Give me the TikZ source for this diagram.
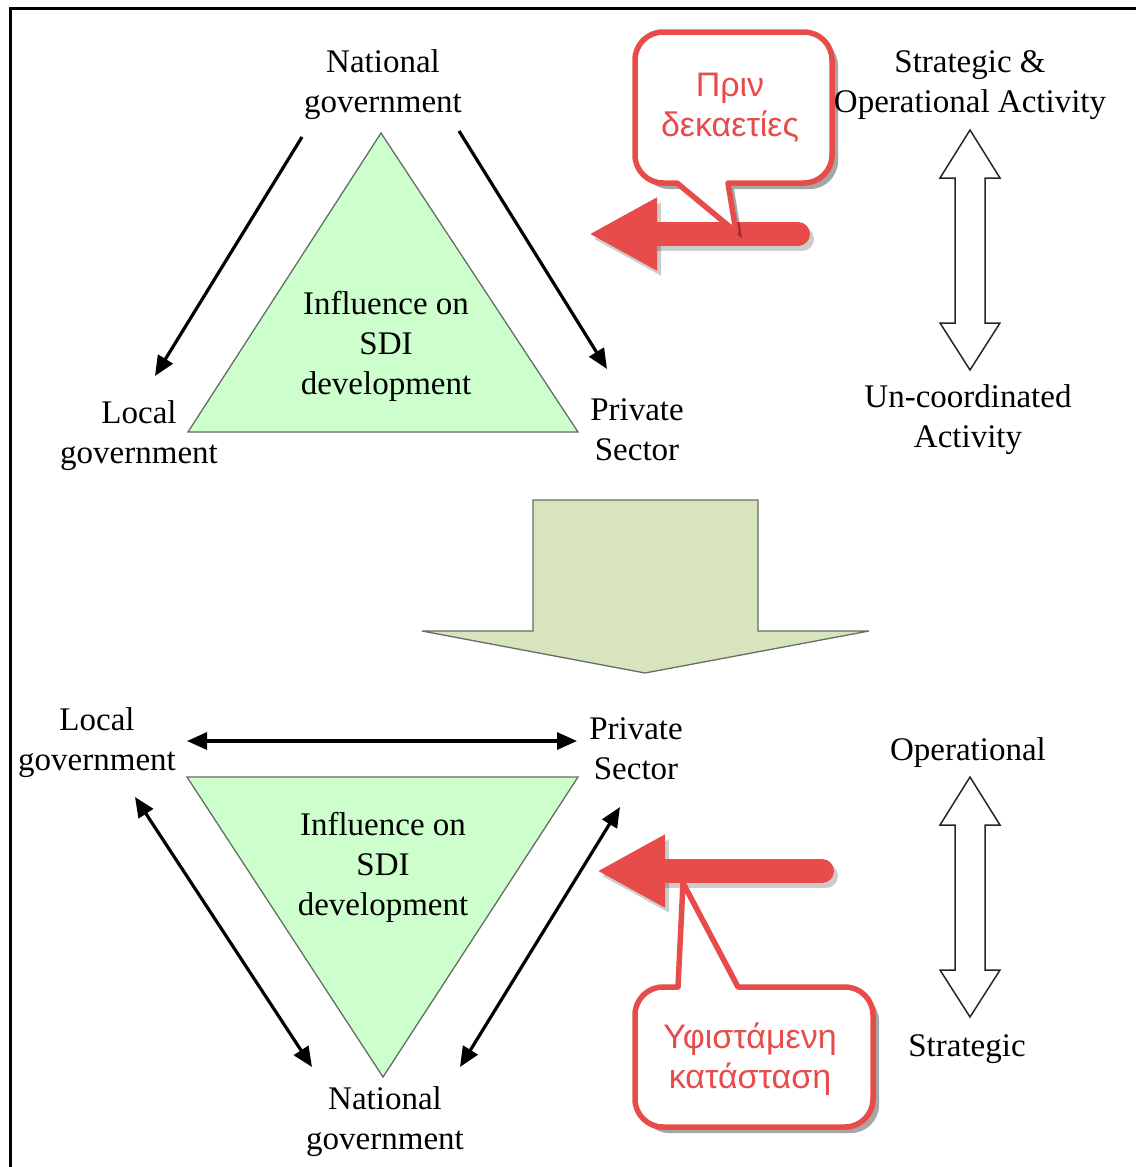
\documentclass[tikz,border=0pt]{standalone}
\usepackage{fontspec}
\setmainfont{Liberation Serif}
\newfontfamily\grfont{Liberation Sans}
\usetikzlibrary{arrows.meta,shadows}
\definecolor{calred}{RGB}{232,76,74}
\definecolor{trigreen}{RGB}{204,255,204}
\definecolor{bigarrow}{RGB}{215,228,189}
\definecolor{trioutline}{RGB}{100,110,100}
\tikzset{
  lbl/.style={inner sep=0pt, align=center, font=\fontsize{33}{40}\selectfont},
  grlbl/.style={inner sep=0pt, align=center, text=calred, font=\grfont\fontsize{34}{40}\selectfont},
  tri/.style={fill=trigreen, draw=trioutline, line width=1.3pt},
  blk/.style={line width=3.2pt, -{Triangle[length=20pt,width=17pt]}},
  blkboth/.style={line width=3.2pt, {Triangle[length=20pt,width=17pt]}-{Triangle[length=20pt,width=17pt]}},
  hollow/.style={fill=white, draw=black!85, line width=1.5pt, line join=miter},
  redarr/.style={draw=calred, line width=24pt, line cap=round, -{Triangle[length=68pt,width=68pt]}},
  redshadow/.style={draw=black, opacity=0.2, line width=24pt, line cap=round, -{Triangle[length=68pt,width=68pt]}},
  callout/.style={fill=white, draw=calred, line width=5.5pt, line join=round,
    drop shadow={shadow xshift=6pt, shadow yshift=-6pt, opacity=0.35, fill=black}},
}
\begin{document}
\begin{tikzpicture}[x=1pt,y=-1pt]
\useasboundingbox (0,0) rectangle (1135,1167);
% border
\draw[line width=3pt] (10,1170) -- (10,8) -- (1140,8);

% ---------- top section ----------
\coordinate (tA) at (381,133);
\coordinate (tL) at (188,432);
\coordinate (tR) at (578,432);
\draw[tri] (tA) -- (tR) -- (tL) -- cycle;
\node[lbl] (infT) at (386,346) {Influence on\\SDI\\development};
\node[lbl] (natT) at (383,85) {National\\government};
\node[lbl] (locT) at (139,436) {Local\\government};
\node[lbl] (priT) at (637,430) {Private\\Sector};
\coordinate (a1s) at (302,137);
\coordinate (a1e) at (155,376);
\coordinate (a2s) at (459,131);
\coordinate (a2e) at (607,369);
\draw[blk] (a1s) -- (a1e);
\draw[blk] (a2s) -- (a2e);

\node[lbl] (strT) at (970,85) {Strategic \&\\Operational Activity};
\node[lbl] (uncT) at (968,420) {Un-coordinated\\Activity};
\draw[hollow] (970,130) -- (1000,178) -- (985,178) -- (985,323) -- (1000,323) -- (970,370)
  -- (940,323) -- (955,323) -- (955,178) -- (940,178) -- cycle;

% red arrow top
\coordinate (r1s) at (798,234);
\coordinate (r1e) at (589,234);
\draw[redshadow] ([shift={(4,5)}]r1s) -- ([shift={(4,5)}]r1e);
\draw[redarr] (r1s) -- (r1e);
% callout top
\draw[callout] (677,183) -- (663,183) arc (90:180:28) -- (635,60) arc (180:270:28)
  -- (804,32) arc (270:360:28) -- (832,155) arc (0:90:28) -- (728,183) -- (736,232) -- cycle;
\node[grlbl] (prin) at (730,108) {Πριν\\δεκαετίες};

% ---------- big down arrow ----------
\draw[fill=bigarrow, draw=trioutline, line width=1.3pt] (533,500) -- (758,500) -- (758,631) -- (869,631)
  -- (645,673) -- (422,631) -- (533,631) -- cycle;

% ---------- bottom section ----------
\coordinate (bL) at (187,777);
\coordinate (bR) at (578,777);
\coordinate (bB) at (383,1077);
\draw[tri] (bL) -- (bR) -- (bB) -- cycle;
\node[lbl] (infB) at (383,867) {Influence on\\SDI\\development};
\node[lbl] (locB) at (97,743) {Local\\government};
\node[lbl] (priB) at (636,749) {Private\\Sector};
\node[lbl] (natB) at (385,1122) {National\\government};
\coordinate (h1) at (187,741);
\coordinate (h2) at (577,741);
\coordinate (d1s) at (135,797);
\coordinate (d1e) at (312,1067);
\coordinate (d2s) at (620,807);
\coordinate (d2e) at (460,1067);
\draw[blkboth] (h1) -- (h2);
\draw[blkboth] (d1s) -- (d1e);
\draw[blkboth] (d2s) -- (d2e);

\node[lbl] (opB) at (968,753) {Operational};
\node[lbl] (strB) at (967,1049) {Strategic};
\draw[hollow] (970,777) -- (1000,825) -- (985,825) -- (985,970) -- (1000,970) -- (970,1017)
  -- (940,970) -- (955,970) -- (955,825) -- (940,825) -- cycle;

% red arrow bottom
\coordinate (r2s) at (822,871);
\coordinate (r2e) at (597,871);
\draw[redshadow] ([shift={(4,5)}]r2s) -- ([shift={(4,5)}]r2e);
\draw[redarr] (r2s) -- (r2e);
% callout bottom
\draw[callout] (683,883) -- (678,987) -- (663,987) arc (270:180:28) -- (635,1099) arc (180:90:28)
  -- (845,1127) arc (90:0:28) -- (873,1015) arc (360:270:28) -- (738,987) -- cycle;
\node[grlbl] (yfis) at (750,1059) {Υφιστάμενη\\κατάσταση};
\end{tikzpicture}
\end{document}
